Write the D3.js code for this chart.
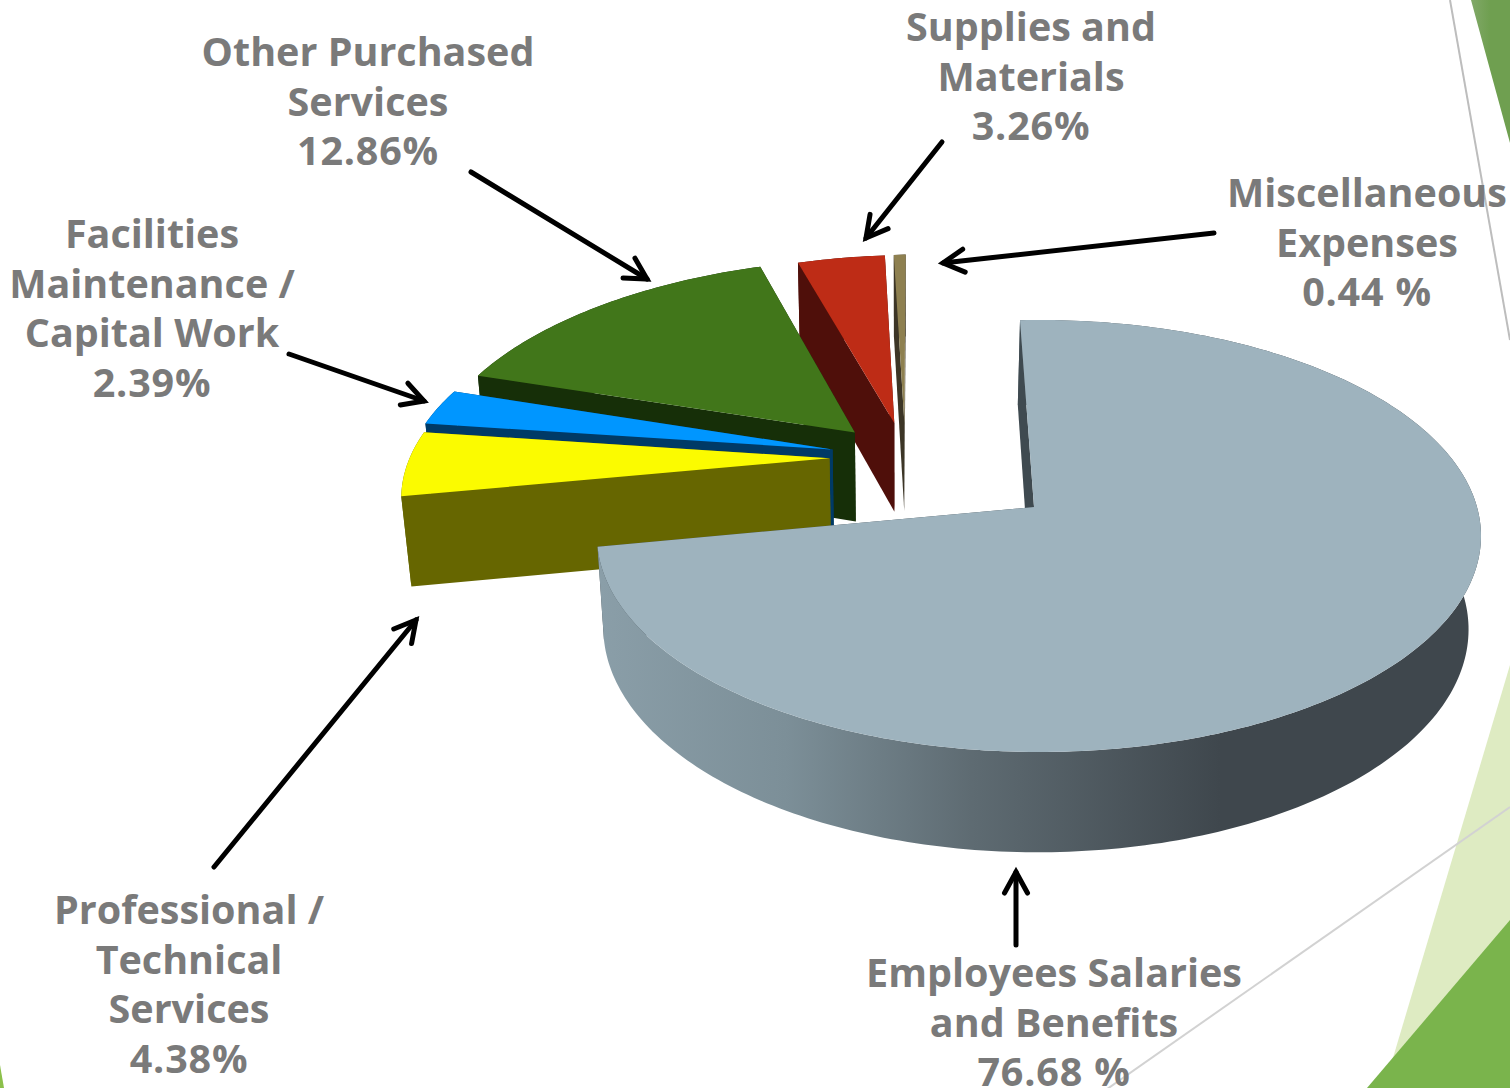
<!DOCTYPE html>
<html>
<head>
<meta charset="utf-8">
<script src="https://cdn.jsdelivr.net/npm/d3@7"></script>
<style>
html, body { margin: 0; padding: 0; background: #fff; overflow: hidden; }
text { font-family: "Open Sans", sans-serif; font-weight: 700; fill: #7A7A7A; text-anchor: middle; }
</style>
</head>
<body>
<script>
const WIDTH = 1510, HEIGHT = 1088;

// data
const categories = ["Employees Salaries and Benefits", "Professional / Technical Services", "Facilities Maintenance / Capital Work", "Other Purchased Services", "Supplies and Materials", "Miscellaneous Expenses"];
const values = [76.68, 4.38, 2.39, 12.86, 3.26, 0.44];
const valueLabels = ["76.68 %", "4.38%", "2.39%", "12.86%", "3.26%", "0.44 %"];
const labelLines = [
    ["Employees Salaries", "and Benefits"],
    ["Professional /", "Technical", "Services"],
    ["Facilities", "Maintenance /", "Capital Work"],
    ["Other Purchased", "Services"],
    ["Supplies and", "Materials"],
    ["Miscellaneous", "Expenses"]
];

// styling and placement per slice, same order as categories
const topColors = ["#9EB3BE", "#FBFB00", "#0096FF", "#41761A", "#BE2C16", "#8E8050"];
const wallColors = ["#3F4A50", "#666600", "#003A66", "#162F08", "#4F0F0A", "#3C3526"];
const explode = [0.39, 0.18, 0.18, 0.18, 0.18, 0.18];
const sliceRadius = [1, 1.012, 1.022, 1.026, 1, 1];
const labelPos = [[1054, 987], [189, 924], [152, 248], [368, 66], [1031, 41], [1367, 207]];
const LINE_GAP = 49.6;
const arrows = [
    [[1016, 945], [1016, 872]],
    [[214, 867], [416, 620]],
    [[289, 354], [424, 401]],
    [[471, 172], [647, 279]],
    [[942, 142], [866, 238]],
    [[1214, 233], [943, 263]]
];

// camera: rim ellipse of the big slice on screen, where its apex lands, where its first edge lands
const RIM = {cx: 1039, cy: 536, rx: 442, ry: 216};
const APEX = [1034, 507], FIRST_EDGE = [1020, 320];
const DEPTH = 0.02125, NADIR = [900, 4937];
// the tilted view squeezes the big slice on screen, this is the drawn sweep in degrees
const MAIN_SWEEP = 261.5;

const norm = p => [(p[0] - RIM.cx) / RIM.rx, (p[1] - RIM.cy) / RIM.ry];
const apexN = norm(APEX);
const shift = Math.hypot(apexN[0], apexN[1]);
const nx = apexN[0] / shift, ny = apexN[1] / shift;
const squeeze = Math.sqrt(1 - shift * shift);

// projective map of the unit disc that carries its centre to the apex
function boost(x, y, w, r) {
    const par = x * nx + y * ny;
    const px = x - par * nx, py = y - par * ny;
    const out = par + r * w;
    return [out * nx + px * squeeze, out * ny + py * squeeze, w + r * par];
}

const edgeN = norm(FIRST_EDGE);
const edgeLen = Math.hypot(edgeN[0], edgeN[1]);
const back = boost(edgeN[0] / edgeLen, edgeN[1] / edgeLen, 1, -shift);
const ROT = Math.atan2(back[0], -back[1]);

// ground point (u, v), optionally pushed down the pie's thickness
function project(u, v, down) {
    const ru = u * Math.cos(ROT) - v * Math.sin(ROT);
    const rv = u * Math.sin(ROT) + v * Math.cos(ROT);
    const [bx, by, w] = boost(ru, rv, 1, shift);
    const x = RIM.cx * w + RIM.rx * bx;
    const y = RIM.cy * w + RIM.ry * by;
    const t = down ? DEPTH : 0;
    return [(x + t * NADIR[0]) / (w + t), (y + t * NADIR[1]) / (w + t)];
}

const svg = d3.select("body").append("svg")
    .attr("width", WIDTH)
    .attr("height", HEIGHT)
    .attr("viewBox", `0 0 ${WIDTH} ${HEIGHT}`)
    .style("display", "block");

const poly = d3.line().curve(d3.curveLinearClosed);

// theme decoration behind the chart
const defs = svg.append("defs");
const topGrad = defs.append("linearGradient").attr("id", "cornerGreen")
    .attr("gradientUnits", "userSpaceOnUse")
    .attr("x1", 1470).attr("x2", 1510).attr("y1", 0).attr("y2", 0);
topGrad.append("stop").attr("offset", 0).attr("stop-color", "#82A96A");
topGrad.append("stop").attr("offset", 0.5).attr("stop-color", "#6F9F50");
topGrad.append("stop").attr("offset", 1).attr("stop-color", "#6F9F50");

const deco = svg.append("g");
deco.append("path").attr("d", poly([[1471, 0], [1510, 0], [1510, 143]])).attr("fill", "url(#cornerGreen)");
deco.append("path").attr("d", poly([[1510, 665], [1510, 1088], [1384, 1088]])).attr("fill", "#DEEBC2");
deco.append("path").attr("d", poly([[1510, 920], [1510, 1088], [1367, 1088]])).attr("fill", "#7AB44C");
deco.append("path").attr("d", poly([[0, 1065], [4, 1088], [0, 1088]])).attr("fill", "#8CC04B");
deco.append("line").attr("x1", 1450).attr("y1", 0).attr("x2", 1510).attr("y2", 340)
    .attr("stroke", "#BDBDBD").attr("stroke-width", 2);
deco.append("line").attr("x1", 1510).attr("y1", 807).attr("x2", 1100).attr("y2", 1094)
    .attr("stroke", "#D2D2D2").attr("stroke-width", 2);

// shading along the big slice's rim
const rimGrad = defs.append("linearGradient").attr("id", "rimGrad")
    .attr("gradientUnits", "userSpaceOnUse")
    .attr("x1", 600).attr("x2", 1220).attr("y1", 0).attr("y2", 0);
[[0, "#8A9EA8"], [0.3, "#7C8F98"], [0.6, "#5E6B72"], [1, "#3F474D"]].forEach(s =>
    rimGrad.append("stop").attr("offset", s[0]).attr("stop-color", s[1]));

// pie layout, clockwise from twelve o'clock
const arcs = d3.pie().sort(null)(values);
const view = d3.scaleLinear()
    .domain([0, arcs[0].endAngle, 2 * Math.PI])
    .range([0, MAIN_SWEEP * Math.PI / 180, 2 * Math.PI]);

const mainMid = view((arcs[0].startAngle + arcs[0].endAngle) / 2);
const center = [-explode[0] * Math.sin(mainMid), explode[0] * Math.cos(mainMid)];

const slices = arcs.map((a, i) => {
    const a0 = view(a.startAngle), a1 = view(a.endAngle);
    const mid = (a0 + a1) / 2;
    const cu = center[0] + explode[i] * Math.sin(mid);
    const cv = center[1] - explode[i] * Math.cos(mid);
    const steps = Math.max(2, Math.ceil((a1 - a0) / (Math.PI / 180)));
    const angles = d3.range(steps + 1).map(k => a0 + (a1 - a0) * k / steps);
    const rim = angles.map(t => [cu + sliceRadius[i] * Math.sin(t), cv - sliceRadius[i] * Math.cos(t)]);
    return {i, apex: [cu, cv], rim};
});

const at = (p, down) => project(p[0], p[1], down);

function cutFace(sel, s, p) {
    sel.append("path")
        .attr("d", poly([at(s.apex, false), at(p, false), at(p, true), at(s.apex, true)]))
        .attr("fill", wallColors[s.i]);
}

const g = svg.append("g");
// back to front: the big slice sits on top of everything
const order = [5, 4, 3, 2, 1, 0];
order.forEach(i => {
    const s = slices[i];
    const sl = g.append("g").attr("class", "slice");
    cutFace(sl, s, s.rim[s.rim.length - 1]); // far cut, mostly hidden
    sl.append("path") // outer rim
        .attr("d", poly(s.rim.map(p => at(p, false)).concat(s.rim.slice().reverse().map(p => at(p, true)))))
        .attr("fill", i === 0 ? "url(#rimGrad)" : wallColors[i]);
    cutFace(sl, s, s.rim[0]);
    sl.append("path") // top
        .attr("d", poly([at(s.apex, false)].concat(s.rim.map(p => at(p, false)))))
        .attr("fill", topColors[i]);
});

// arrows
const arrowG = svg.append("g").attr("fill", "none").attr("stroke", "#000")
    .attr("stroke-width", 5).attr("stroke-linecap", "round").attr("stroke-linejoin", "miter");
arrows.forEach(a => {
    const [p, q] = a;
    const ang = Math.atan2(q[1] - p[1], q[0] - p[0]);
    const head = d => [q[0] + 24 * Math.cos(ang + d), q[1] + 24 * Math.sin(ang + d)];
    arrowG.append("path").attr("d", d3.line()([p, q]));
    arrowG.append("path").attr("d", d3.line()([head(Math.PI - 0.5), q, head(Math.PI + 0.5)]));
});

// labels
const labels = svg.append("g").attr("font-size", 39.5);
categories.forEach((c, i) => {
    const names = labelLines[i];
    const lines = names.concat(valueLabels[i]);
    labels.selectAll(null).data(lines).enter().append("text")
        .attr("x", labelPos[i][0])
        .attr("y", (d, k) => labelPos[i][1] + k * LINE_GAP)
        .attr("letter-spacing", (d, k) => k === names.length ? 0.8 : 0)
        .text(d => d);
});
</script>
</body>
</html>
